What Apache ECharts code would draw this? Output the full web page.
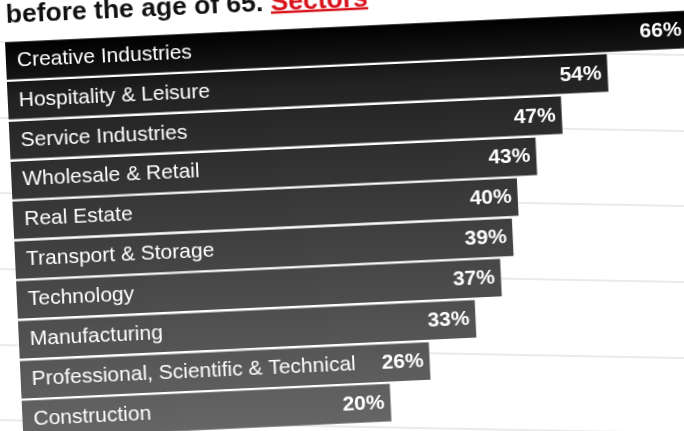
<!DOCTYPE html>
<html>
<head>
<meta charset="utf-8">
<script src="https://cdn.jsdelivr.net/npm/echarts@6/dist/echarts.min.js"></script>
<style>
html,body{margin:0;padding:0;width:684px;height:431px;overflow:hidden;background:#ffffff;}
#bg{position:absolute;left:0;top:0;width:730px;height:470px;transform-origin:0px 42px;transform:rotate(1.09deg);}
#main{position:absolute;left:-15px;top:-29.4px;width:760px;height:500px;transform-origin:20px 70px;transform:rotate(-2.65deg);}
</style>
</head>
<body>
<div id="bg"></div>
<div id="main"></div>
<script>
// ---- data ----
const categories = [
  'Creative Industries',
  'Hospitality & Leisure',
  'Service Industries',
  'Wholesale & Retail',
  'Real Estate',
  'Transport & Storage',
  'Technology',
  'Manufacturing',
  'Professional, Scientific & Technical',
  'Construction'
];
const values = [66, 54, 47, 43, 40, 39, 37, 33, 26, 20];
const titleText = 'before the age of 65.';
const titleLink = 'Sectors';
const gridLineTicks = [0, 1, 2, 3, 4, 5];

// ---- layout ----
const FONT = '"Liberation Sans", Arial, Helvetica, sans-serif';
const L = 20, T = 70, GH = 399, LABEL_PAD = 34;
const GW = 232 / LABEL_PAD * 100;

// background rules
const bg = echarts.init(document.getElementById('bg'), null, {renderer: 'canvas'});
bg.setOption({
  animation: false,
  grid: {left: 0, right: 0, top: 42, height: 378},
  xAxis: {type: 'value', show: false},
  yAxis: {
    type: 'value', min: gridLineTicks[0], max: gridLineTicks[gridLineTicks.length - 1], interval: 1,
    axisLabel: {show: false}, axisLine: {show: false}, axisTick: {show: false},
    splitLine: {show: true, lineStyle: {color: '#e3e3e3', width: 1.5}}
  },
  series: []
});

// measure title text
const cv = document.createElement('canvas').getContext('2d');
const TFS = 26.5;
cv.font = 'bold ' + TFS + 'px ' + FONT;
const w1 = cv.measureText(titleText + ' ').width;
const w2 = cv.measureText(titleLink).width;
const tx = L + 2, tBase = T + 1.2 - 22;

const grad = {
  type: 'linear', x: 0, y: T, x2: 0, y2: T + GH, global: true,
  colorStops: [
    {offset: 0, color: '#000000'},
    {offset: 0.05, color: '#0b0b0b'},
    {offset: 0.15, color: '#222222'},
    {offset: 0.95, color: '#626262'},
    {offset: 1, color: '#666666'}
  ]
};

const chart = echarts.init(document.getElementById('main'), null, {renderer: 'canvas'});
chart.setOption({
  animation: false,
  backgroundColor: 'transparent',
  grid: {left: L, top: T, width: GW, height: GH},
  xAxis: {type: 'value', min: 0, max: 100, show: false},
  yAxis: {type: 'category', data: categories, inverse: true, show: false},
  graphic: [
    {type: 'text', x: tx, y: tBase - 4.3, style: {text: titleText, font: 'bold ' + TFS + 'px ' + FONT, fill: '#111111', verticalAlign: 'middle'}},
    {type: 'text', x: tx + w1, y: tBase - 4.3, style: {text: titleLink, font: 'bold ' + TFS + 'px ' + FONT, fill: '#d8131b', verticalAlign: 'middle'}},
    {type: 'rect', shape: {x: tx + w1, y: tBase + 3.5, width: w2, height: 2.5}, style: {fill: '#d8131b'}}
  ],
  series: [
    {
      type: 'bar', stack: 'total', barWidth: 37.5, silent: true,
      data: categories.map(() => LABEL_PAD),
      itemStyle: {color: grad},
      label: {
        show: true, position: 'insideLeft', distance: 11,
        formatter: p => categories[p.dataIndex],
        color: '#ffffff', fontSize: 21, fontFamily: FONT
      }
    },
    {
      type: 'bar', stack: 'total', barWidth: 37.5, silent: true,
      data: values,
      itemStyle: {color: grad},
      label: {
        show: true, position: 'insideRight', distance: 6,
        formatter: '{c}%',
        color: '#ffffff', fontSize: 21, fontWeight: 'bold', fontFamily: FONT
      }
    }
  ]
});
</script>
</body>
</html>
